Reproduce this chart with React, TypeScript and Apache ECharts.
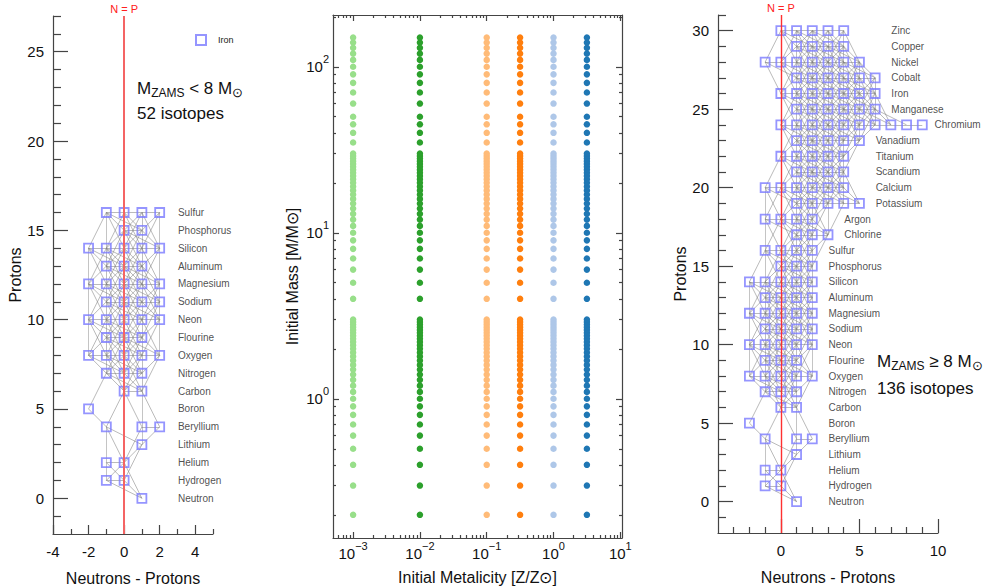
import React, { useEffect, useRef } from 'react';
import * as echarts from 'echarts';

// ---------- data ----------
const elementNames = [
  'Neutron', 'Hydrogen', 'Helium', 'Lithium', 'Beryllium', 'Boron', 'Carbon', 'Nitrogen',
  'Oxygen', 'Flourine', 'Neon', 'Sodium', 'Magnesium', 'Aluminum', 'Silicon', 'Phosphorus',
  'Sulfur', 'Chlorine', 'Argon', 'Potassium', 'Calcium', 'Scandium', 'Titanium', 'Vanadium',
  'Chromium', 'Manganese', 'Iron', 'Cobalt', 'Nickel', 'Copper', 'Zinc',
];

// N - P values of the isotopes, indexed by proton number (M_ZAMS < 8 Msun network)
const lowMassIsotopes: number[][] = [
  [1], [-1, 0], [-1, 0], [1], [-1, 1, 2], [-2], [0, 1], [-1, 0, 1],
  [-2, -1, 0, 1, 2], [-1, 0, 1], [-2, -1, 0, 1, 2], [-1, 0, 1, 2], [-2, -1, 0, 1, 2],
  [-1, 0, 1], [-2, -1, 0, 1, 2], [0, 1], [-1, 0, 1, 2],
];
const lowMassLabelN = [3, 3, 3, 3, 3, 3, 3, 3, 3, 3, 3, 3, 3, 3, 3, 3, 3];

// N - P values of the isotopes, indexed by proton number (M_ZAMS >= 8 Msun network)
const highMassIsotopes: number[][] = [
  [1], [-1, 0], [-1, 0], [1], [-1, 1, 2], [-2], [0, 1], [-1, 0, 1],
  [-2, -1, 0, 1, 2], [-1, 0, 1], [-2, -1, 0, 1, 2], [-1, 0, 1, 2], [-2, -1, 0, 1, 2],
  [-1, 0, 1, 2], [-2, -1, 0, 1, 2], [0, 1, 2], [-1, 0, 1, 2], [1, 2, 3], [-1, 0, 1, 2],
  [1, 2, 3, 4, 5], [-1, 0, 1, 2, 3, 4], [1, 2, 3, 4], [0, 1, 2, 3, 4], [1, 2, 3, 4, 5],
  [0, 1, 2, 3, 4, 5, 6, 7, 8, 9], [1, 2, 3, 4, 5, 6], [0, 1, 2, 3, 4, 5, 6], [1, 2, 3, 4, 5, 6],
  [-1, 0, 1, 2, 3, 4, 5], [1, 2, 3, 4], [0, 1, 2, 3, 4],
];
const highMassLabelN = [
  3, 3, 3, 3, 3, 3, 3, 3, 3, 3, 3, 3, 3, 3, 3, 3, 3, 4, 4, 6, 6, 6, 6, 6, 9.75, 7, 7, 7, 7, 7, 7,
];

const metallicities = [0.001, 0.01, 0.1, 0.316, 1, 3.16];
const initialMasses = [
  0.2, 0.3, 0.4, 0.5, 0.6, 0.7, 0.8, 0.9, 1.0, 1.1, 1.2, 1.3, 1.4, 1.5, 1.6, 1.7, 1.8, 1.9,
  2.0, 2.1, 2.2, 2.3, 2.4, 2.5, 2.6, 2.7, 2.8, 2.9, 3.0, 4, 5, 6, 7, 8, 9, 10, 11, 12, 13, 14,
  15, 16, 17, 18, 19, 20, 21, 22, 23, 24, 25, 26, 27, 28, 29, 30, 35, 40, 45, 50, 60, 70, 80,
  90, 100, 110, 120, 130, 140, 150,
];

// tick values
const leftXMajor = [-4, -2, 0, 2, 4];
const leftXMinor = [-3, -1, 1, 3, 5];
const leftYMajor = [0, 5, 10, 15, 20, 25];
const leftYMinor = [-1, 1, 2, 3, 4, 6, 7, 8, 9, 11, 12, 13, 14, 16, 17, 18, 19, 21, 22, 23, 24, 26, 27];
const rightXMajor = [0, 5, 10];
const rightXMinor = [-3, -2, -1, 1, 2, 3, 4, 6, 7, 8, 9];
const rightYMajor = [0, 5, 10, 15, 20, 25, 30];
const rightYMinor = [-1, 1, 2, 3, 4, 6, 7, 8, 9, 11, 12, 13, 14, 16, 17, 18, 19, 21, 22, 23, 24, 26, 27, 28, 29, 31];
const midXDecades = [-3, -2, -1, 0, 1];
const midXMinorValues = [
  0.0006, 0.0007, 0.0008, 0.0009, 0.002, 0.003, 0.004, 0.005, 0.006, 0.007, 0.008, 0.009,
  0.02, 0.03, 0.04, 0.05, 0.06, 0.07, 0.08, 0.09, 0.2, 0.3, 0.4, 0.5, 0.6, 0.7, 0.8, 0.9,
  2, 3, 4, 5, 6, 7, 8, 9,
];
const midYDecades = [0, 1, 2];
const midYMinorValues = [
  0.2, 0.3, 0.4, 0.5, 0.6, 0.7, 0.8, 0.9, 2, 3, 4, 5, 6, 7, 8, 9, 20, 30, 40, 50, 60, 70, 80, 90, 200,
];

// ---------- styling ----------
const FONT = '"Liberation Sans", Arial, Helvetica, sans-serif';
const metalColors = ['#98df8a', '#2ca02c', '#ffbb78', '#ff7f0e', '#aec7e8', '#1f77b4'];
const AXIS = { color: '#444', width: 1.2 };
const TXT = '#111';
const SQUARE = '#7b7bff';

const X_MIN = 5e-4, X_MAX = 10.6, Y_MIN = 0.145, Y_MAX = 205;

// reaction links: (N-P, P) steps
const diagSteps = [[1, 0], [-1, 1], [1, 1], [-1, 2], [2, -1], [1, 2]];
const vertSteps = [[0, 1], [0, 2]];

function isoPoints(iso: number[][]) {
  const pts: any[] = [];
  iso.forEach((offs, p) => offs.forEach((n) => pts.push([n, p, elementNames[p]])));
  return pts;
}

function isoEdges(iso: number[][], steps: number[][]) {
  const set = new Set<string>();
  iso.forEach((offs, p) => offs.forEach((n) => set.add(n + ',' + p)));
  const edges: any[] = [];
  iso.forEach((offs, p) =>
    offs.forEach((n) => {
      steps.forEach(([dx, dy]) => {
        if (set.has(n + dx + ',' + (p + dy))) edges.push({ coords: [[n, p], [n + dx, p + dy]] });
      });
    })
  );
  return edges;
}

function labelPoints(labelN: number[]) {
  return labelN.map((n, p) => [n, p, elementNames[p]]);
}

function pow10Label(v: number) {
  const n = Math.round(v);
  return '{b|10}{s|' + (n < 0 ? '\u2212' + -n : String(n)) + '}';
}
const powRich = {
  b: { fontSize: 15, lineHeight: 26, color: TXT, fontFamily: FONT },
  s: { fontSize: 11, lineHeight: 12, verticalAlign: 'top', color: TXT, fontFamily: FONT },
};

function valAxis(o: any) {
  const ax: any = {
    type: 'value',
    gridIndex: o.grid,
    min: o.min,
    max: o.max,
    position: o.position,
    splitLine: { show: false },
    axisLine: { show: !!o.line, onZero: false, lineStyle: AXIS },
    axisTick: { show: true, inside: true, length: o.tickLen, customValues: o.ticks, lineStyle: AXIS },
    axisLabel: o.labels
      ? {
          show: true,
          customValues: o.labels,
          fontSize: 15,
          color: TXT,
          fontFamily: FONT,
          margin: o.margin ?? 8,
          formatter: o.formatter,
          rich: o.rich,
        }
      : { show: false },
  };
  if (o.name) {
    ax.name = o.name;
    ax.nameLocation = 'middle';
    ax.nameGap = o.nameGap;
    ax.nameTextStyle = { fontSize: 16, color: TXT, fontFamily: FONT };
  }
  return ax;
}

const nEqP = (color: string, width: number) => ({
  silent: true,
  symbol: 'none',
  lineStyle: { color, width, type: 'solid' },
  label: { show: true, position: 'end', formatter: 'N = P', color: '#ff2020', fontSize: 11, fontFamily: FONT, distance: 2 },
  data: [{ xAxis: 0 }],
});

const zamsRich = (sym: string) => ({
  text: '{m|M}{s|ZAMS}{m| ' + sym + ' 8 M}{u|\u2299}',
  rich: {
    m: { fontSize: 17, lineHeight: 22, fontFamily: FONT, fill: TXT },
    s: { fontSize: 12, lineHeight: 14, verticalAlign: 'bottom', fontFamily: FONT, fill: TXT },
    u: { fontSize: 13, lineHeight: 12, verticalAlign: 'bottom', fontFamily: FONT, fill: TXT },
  },
  verticalAlign: 'middle',
  fill: TXT,
});

function networkSeries(iso: number[][], axisIndex: number) {
  return [
    {
      type: 'lines', coordinateSystem: 'cartesian2d', xAxisIndex: axisIndex, yAxisIndex: axisIndex, silent: true, z: 1,
      lineStyle: { color: '#bdbdbd', width: 0.9, opacity: 1 },
      data: isoEdges(iso, vertSteps),
    },
    {
      type: 'lines', coordinateSystem: 'cartesian2d', xAxisIndex: axisIndex, yAxisIndex: axisIndex, silent: true, z: 1,
      lineStyle: { color: '#7e7e7e', width: 0.6, opacity: 0.9 },
      data: isoEdges(iso, diagSteps),
    },
  ];
}

export default function App() {
  const ref = useRef<HTMLDivElement>(null);
  useEffect(() => {
    if (!ref.current) return;
    const chart = echarts.init(ref.current, undefined, { renderer: 'svg' });
    const lx0 = Math.log10(X_MIN), lx1 = Math.log10(X_MAX);
    const ly0 = Math.log10(Y_MIN), ly1 = Math.log10(Y_MAX);
    const midXMinor = midXMinorValues.map((v) => Math.log10(v));
    const midYMinor = midYMinorValues.map((v) => Math.log10(v));

    const option: any = {
      animation: false,
      backgroundColor: '#fff',
      textStyle: { fontFamily: FONT },
      grid: [
        { left: 53, top: 16, width: 160, height: 518, outerBoundsMode: 'none' },
        { left: 333, top: 15, width: 289, height: 523, outerBoundsMode: 'none' },
        { left: 718, top: 15, width: 220, height: 518, outerBoundsMode: 'none' },
      ],
      legend: {
        left: 190,
        top: 29,
        itemWidth: 10,
        itemHeight: 10,
        selectedMode: false,
        data: ['Iron'],
        textStyle: { fontSize: 9, color: '#222', fontFamily: FONT, padding: [0, 0, 0, 7] },
      },
      xAxis: [
        valAxis({ grid: 0, min: -4, max: 5, position: 'bottom', line: true, tickLen: 9, ticks: leftXMajor, labels: leftXMajor, margin: 10, name: 'Neutrons - Protons', nameGap: 36 }),
        valAxis({ grid: 0, min: -4, max: 5, position: 'bottom', tickLen: 5, ticks: leftXMinor }),
        { type: 'log', gridIndex: 1, min: X_MIN, max: X_MAX, logBase: 10, show: false },
        valAxis({ grid: 1, min: lx0, max: lx1, position: 'bottom', line: true, tickLen: 6, ticks: midXDecades, labels: midXDecades, margin: 2, formatter: pow10Label, rich: powRich, name: 'Initial Metalicity [Z/Z\u2299]', nameGap: 31 }),
        valAxis({ grid: 1, min: lx0, max: lx1, position: 'bottom', tickLen: 3, ticks: midXMinor }),
        valAxis({ grid: 1, min: lx0, max: lx1, position: 'top', line: true, tickLen: 6, ticks: midXDecades }),
        valAxis({ grid: 1, min: lx0, max: lx1, position: 'top', tickLen: 3, ticks: midXMinor }),
        valAxis({ grid: 2, min: -4, max: 10, position: 'bottom', line: true, tickLen: 14, ticks: rightXMajor, labels: rightXMajor, margin: 10, name: 'Neutrons - Protons', nameGap: 36 }),
        valAxis({ grid: 2, min: -4, max: 10, position: 'bottom', tickLen: 6, ticks: rightXMinor }),
      ],
      yAxis: [
        valAxis({ grid: 0, min: -2, max: 27, position: 'left', line: true, tickLen: 15, ticks: leftYMajor, labels: leftYMajor, margin: 9, name: 'Protons', nameGap: 24 }),
        valAxis({ grid: 0, min: -2, max: 27, position: 'left', tickLen: 8, ticks: leftYMinor }),
        { type: 'log', gridIndex: 1, min: Y_MIN, max: Y_MAX, logBase: 10, show: false },
        valAxis({ grid: 1, min: ly0, max: ly1, position: 'left', line: true, tickLen: 6, ticks: midYDecades, labels: midYDecades, margin: 4, formatter: pow10Label, rich: powRich, name: 'Initial Mass [M/M\u2299]', nameGap: 33 }),
        valAxis({ grid: 1, min: ly0, max: ly1, position: 'left', tickLen: 3, ticks: midYMinor }),
        valAxis({ grid: 1, min: ly0, max: ly1, position: 'right', line: true, tickLen: 6, ticks: midYDecades }),
        valAxis({ grid: 1, min: ly0, max: ly1, position: 'right', tickLen: 3, ticks: midYMinor }),
        valAxis({ grid: 2, min: -2, max: 31, position: 'left', line: true, tickLen: 15, ticks: rightYMajor, labels: rightYMajor, margin: 9, name: 'Protons', nameGap: 23 }),
        valAxis({ grid: 2, min: -2, max: 31, position: 'left', tickLen: 8, ticks: rightYMinor }),
      ],
      series: [
        // ---- left panel ----
        ...networkSeries(lowMassIsotopes, 0),
        {
          name: 'Iron', type: 'scatter', xAxisIndex: 0, yAxisIndex: 0, z: 3, symbol: 'rect', symbolSize: 9,
          itemStyle: { color: 'rgba(255,255,255,0)', borderColor: SQUARE, borderWidth: 1.8 },
          data: isoPoints(lowMassIsotopes),
          markLine: nEqP('#f46464', 2),
        },
        {
          name: 'lowLabels', type: 'scatter', xAxisIndex: 0, yAxisIndex: 0, silent: true, symbolSize: 1,
          itemStyle: { color: 'rgba(0,0,0,0)' },
          label: { show: true, position: 'right', distance: 0, fontSize: 10, color: '#222', fontFamily: FONT, formatter: (p: any) => p.data[2] },
          data: labelPoints(lowMassLabelN),
        },
        // ---- middle panel ----
        ...metallicities.map((z, i) => ({
          name: 'Z' + z, type: 'scatter', xAxisIndex: 2, yAxisIndex: 2, symbolSize: 6.5, z: 2,
          itemStyle: { color: metalColors[i], opacity: 1 },
          data: initialMasses.map((m) => [z, m]),
        })),
        // ---- right panel ----
        ...networkSeries(highMassIsotopes, 7),
        {
          name: 'highIsotopes', type: 'scatter', xAxisIndex: 7, yAxisIndex: 7, z: 3, symbol: 'rect', symbolSize: 9,
          itemStyle: { color: 'rgba(255,255,255,0)', borderColor: SQUARE, borderWidth: 1.8 },
          data: isoPoints(highMassIsotopes),
          markLine: nEqP('#ff3030', 1.4),
        },
        {
          name: 'highLabels', type: 'scatter', xAxisIndex: 7, yAxisIndex: 7, silent: true, symbolSize: 1,
          itemStyle: { color: 'rgba(0,0,0,0)' },
          label: { show: true, position: 'right', distance: 0, fontSize: 10, color: '#222', fontFamily: FONT, formatter: (p: any) => p.data[2] },
          data: labelPoints(highMassLabelN),
        },
      ],
      graphic: [
        { type: 'text', x: 137, y: 88, style: zamsRich('<') },
        { type: 'text', x: 137, y: 113, style: { text: '52 isotopes', font: '17px ' + FONT, fill: TXT, verticalAlign: 'middle' } },
        { type: 'text', x: 877, y: 361, style: zamsRich('\u2265') },
        { type: 'text', x: 877, y: 388, style: { text: '136 isotopes', font: '17px ' + FONT, fill: TXT, verticalAlign: 'middle' } },
      ],
    };
    chart.setOption(option);
    return () => chart.dispose();
  }, []);
  return <div ref={ref} style={{ position: 'absolute', left: 0, top: 0, width: 983, height: 586 }} />;
}
